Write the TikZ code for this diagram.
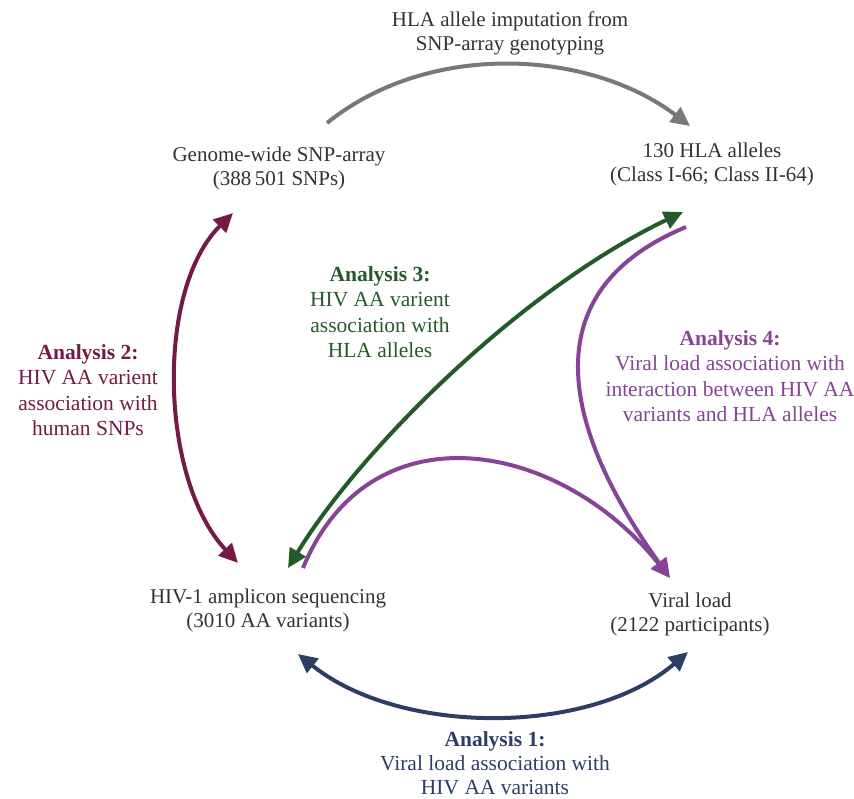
\documentclass[tikz,border=0pt]{standalone}
\usepackage{fontspec}
\setmainfont{Liberation Serif}
\usepackage{tikz}
\usetikzlibrary{arrows.meta,calc,positioning}
\definecolor{TextGray}{RGB}{50,50,50}
\definecolor{ArrowGray}{RGB}{120,120,120}
\definecolor{AnaMaroon}{RGB}{115,27,68}
\definecolor{AnaGreen}{RGB}{36,90,42}
\definecolor{AnaPurple}{RGB}{134,68,150}
\definecolor{AnaNavy}{RGB}{45,62,102}

\begin{document}
\begin{tikzpicture}[x=1pt, y=-1pt,
    txt/.style={align=center, text=TextGray, inner sep=0pt, font=\fontsize{21}{24}\selectfont},
    lbl/.style={align=center, inner sep=0pt, font=\fontsize{21.5}{25.5}\selectfont},
    arr/.style={line width=4pt, -{Triangle[length=19pt,width=18pt]}},
    darr/.style={line width=4pt, {Triangle[length=19pt,width=18pt]}-{Triangle[length=19pt,width=18pt]}}]
    \useasboundingbox (0,0) rectangle (854,798);
    % Draw nodes
    \node[txt] (title) at (510,33) {HLA allele imputation from\\SNP-array genotyping};
    \node[txt] (snp) at (279,168) {Genome-wide SNP-array\\(388\,501 SNPs)};
    \node[txt] (hla) at (712,164) {130 HLA alleles\\(Class I-66; Class II-64)};
    \node[txt] (hiv) at (268,610) {HIV-1 amplicon sequencing\\(3010 AA variants)};
    \node[txt] (vl) at (690,614) {Viral load\\(2122 participants)};
    % Analysis labels
    \node[lbl, text=AnaMaroon] (a2) at (88,390) {\textbf{Analysis 2:}\\HIV AA varient\\association with\\human SNPs};
    \node[lbl, text=AnaGreen] (a3) at (380,312) {\textbf{Analysis 3:}\\HIV AA varient\\association with\\HLA alleles};
    \node[lbl, text=AnaPurple] (a4) at (730,376) {\textbf{Analysis 4:}\\Viral load association with\\interaction between HIV AA\\variants and HLA alleles};
    \node[lbl, text=AnaNavy, font=\fontsize{21.5}{24}\selectfont] (a1) at (495,763) {\textbf{Analysis 1:}\\Viral load association with\\HIV AA variants};
    % Draw arrows
    \draw[arr, ArrowGray] ($(snp)+(48,-45)$) .. controls (430,40) and (590,50) .. ($(hla)+(-22,-38)$);
    \draw[darr, AnaMaroon] ($(snp)+(-46,45)$) .. controls (155,290) and (160,480) .. ($(hiv)+(-30,-47)$);
    \draw[darr, AnaGreen] ($(hiv)+(20,-42)$) .. controls (360,450) and (520,290) .. ($(hla)+(-29,48)$);
    \draw[arr, AnaPurple] ($(hiv)+(35,-42)$) .. controls (370,405) and (560,440) .. ($(vl)+(-20,-36)$);
    \draw[arr, AnaPurple] ($(hla)+(-26,63)$) .. controls (510,300) and (585,460) .. ($(vl)+(-20,-36)$);
    \draw[darr, AnaNavy] ($(hiv)+(30,44)$) .. controls (400,736) and (590,736) .. ($(vl)+(-2,38)$);
\end{tikzpicture}
\end{document}
